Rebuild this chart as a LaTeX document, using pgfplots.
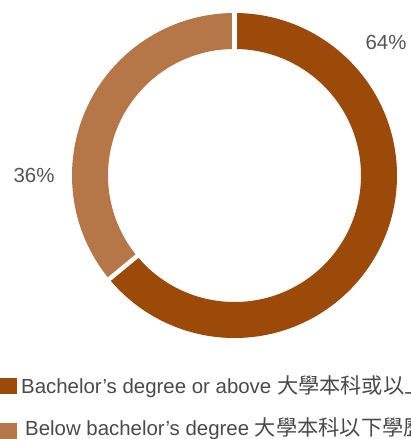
\documentclass[border=0pt]{standalone}
\usepackage{pgfplots}
\pgfplotsset{compat=1.18}
\usepackage{pgfplotstable}
\usepackage{fontspec}
\setmainfont{Liberation Sans}
\newfontfamily\cjk{Noto Sans CJK TC}
\definecolor{cdark}{HTML}{9B4A0A}
\definecolor{clight}{HTML}{B67748}
\definecolor{ctext}{HTML}{4A4A4A}
\definecolor{clabel}{HTML}{555555}
\pgfplotstableread{
label value
1 64
2 36
}\piedata
\begin{document}
\begin{tikzpicture}
\useasboundingbox (0,0) rectangle (411bp,439bp);
\clip (0,0) rectangle (411bp,439bp);
\pgfplotstablegetelem{0}{value}\of\piedata \let\va\pgfplotsretval
\pgfplotstablegetelem{1}{value}\of\piedata \let\vb\pgfplotsretval
\pgfmathsetmacro{\angA}{90-\va*3.6}
\begin{axis}[
  at={(0,0)}, anchor=origin,
  x=1bp, y=1bp,
  xmin=0, xmax=411, ymin=0, ymax=439,
  hide axis, clip=false,
]
% 64% slice (clockwise from top)
\fill[cdark, shift={(axis cs:234.5,263.5)}]
  (90:162.5bp) arc[start angle=90, end angle=\angA, radius=162.5bp]
  -- (\angA:126.5bp) arc[start angle=\angA, end angle=90, radius=126.5bp] -- cycle;
% 36% slice
\fill[clight, shift={(axis cs:234.5,263.5)}]
  (\angA:162.5bp) arc[start angle=\angA, end angle=-270, radius=162.5bp]
  -- (90:126.5bp) arc[start angle=-270, end angle=\angA, radius=126.5bp] -- cycle;
% separators
\draw[white, line width=4.5bp, shift={(axis cs:234.5,263.5)}] (90:120bp) -- (90:170bp);
\draw[white, line width=4.5bp, shift={(axis cs:234.5,263.5)}] (\angA:120bp) -- (\angA:170bp);
% percentage labels
\node[text=clabel, font=\fontsize{20.5}{24}\selectfont, anchor=base] at (axis cs:386,389) {\va\%};
\node[text=clabel, font=\fontsize{20.5}{24}\selectfont, anchor=base] at (axis cs:34,257) {\vb\%};
% legend
\fill[cdark] (axis cs:0,45) rectangle (axis cs:16.5,61);
\fill[clight] (axis cs:0,0) rectangle (axis cs:17,16);
\node[text=ctext, font=\fontsize{20.5}{24}\selectfont, anchor=base west, inner sep=0pt] at (axis cs:21,46) {Bachelor’s degree or above {\cjk\fontsize{21.3}{24}\selectfont 大學本科或以上學歷}};
\node[text=ctext, font=\fontsize{20.5}{24}\selectfont, anchor=base west, inner sep=0pt] at (axis cs:25,4) {Below bachelor’s degree {\cjk\fontsize{21.3}{24}\selectfont 大學本科以下學歷}};
\end{axis}
\end{tikzpicture}
\end{document}
